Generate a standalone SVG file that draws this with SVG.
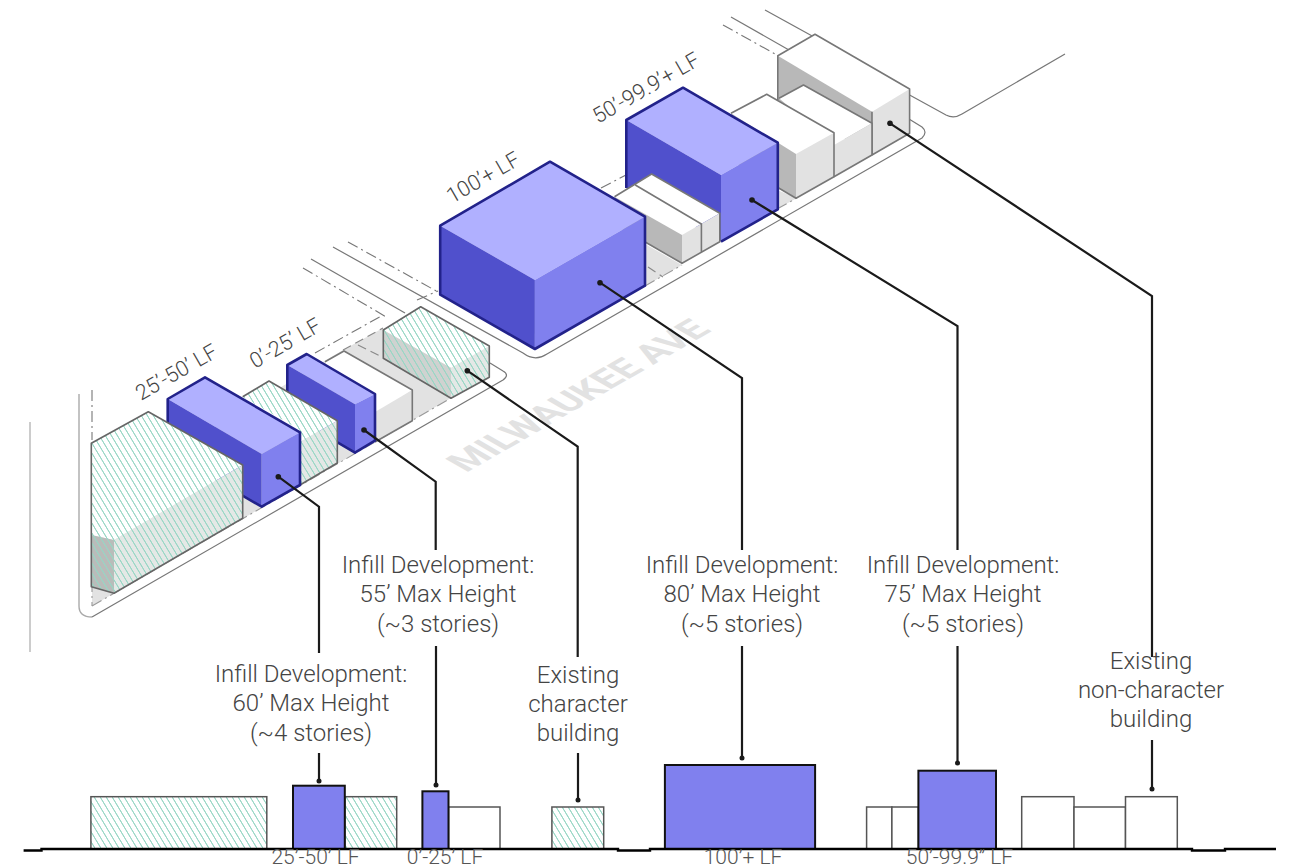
<svg xmlns="http://www.w3.org/2000/svg" width="1291" height="866" viewBox="0 0 1291 866">
<style>
text{font-family:Roboto,"Liberation Sans",sans-serif;font-weight:300;fill:#444}
.lab{font-size:24px;text-anchor:middle}
.iso{font-size:21.5px}
.el{font-size:21px;text-anchor:middle;fill:#555}
.out{fill:none;stroke:#777;stroke-width:1.2}
.dd{fill:none;stroke:#777;stroke-width:1.1;stroke-dasharray:11 4 2 4}
.dash{fill:none;stroke:#888;stroke-width:1.1;stroke-dasharray:9 5}
.g{fill:#e2e2e2}
.bt{fill:#b0b0ff}.bl{fill:#5050cc}.br{fill:#8080ee}
.be{fill:none;stroke:#22228a;stroke-width:2.6;stroke-linejoin:round}
.wt{fill:#fff}.wl{fill:#b8b8b8}.wr{fill:#e2e2e2}
.we{fill:none;stroke:#777;stroke-width:1.6;stroke-linejoin:round}
.ht{fill:#fff}.hr{fill:#e4e8e6}.hl{fill:#cfd2d0}.hd{fill:#b9bcba}
.h{fill:url(#hatch)}
.ee{fill:none;stroke:#666;stroke-width:1.6;stroke-linejoin:round}
.bar{fill:#8080ee;stroke:#111;stroke-width:2}
.wbar{fill:#fff;stroke:#555;stroke-width:1.5}
.hbar{fill:url(#hatch);stroke:#555;stroke-width:1.5}
.lead{fill:none;stroke:#1a1a1a;stroke-width:2.2}
.dot{fill:#1a1a1a}
</style>
<defs>
<pattern id="hatch" patternUnits="userSpaceOnUse" width="6" height="10">
<path d="M-6 0L6 20M0 0L6 10M-6 -10L6 10M0 -10L12 10M6 0L12 10" fill="none" stroke="#97d6c4" stroke-width="1"/>
</pattern>
</defs>
<rect width="1291" height="866" fill="#fff"/>

<g id="site">
<path d="M30 422V652" fill="none" stroke="#aaa" stroke-width="1.2"/>
<path d="M79 394V606Q79 617 92 617" fill="none" stroke="#aaa" stroke-width="1.4"/>
<path class="out" d="M92 617L503 380Q510 375 503 371L490 363"/>
<path class="out" d="M333 247L523 353Q535 362 547 354L922 138Q928 132 922 127L909 119"/>
<path class="out" d="M909.6 95L946 115Q954 119 962 114L1065 54"/>
<path class="out" d="M311 259L405 313"/>
<path class="out" d="M765 10L814 37"/>
<path class="out" d="M731 17L789 50"/>
<path class="dd" d="M348 242L438 292"/>
<path class="dd" d="M303 268L388 318"/>
<path class="dd" d="M723 25L777 55"/>
<path class="dd" d="M315 353L383 315"/>
<path class="dd" d="M92 390V440"/>
<path class="dd" d="M601 188L626 175"/>
<path class="dd" d="M417 300L438 291"/>
<path class="g" d="M92 606L451 398L383 358V328L343 350L92 500Z"/>
<path class="g" d="M645 244L682 265L645 286Z"/>
<path class="g" d="M777 190L797 198L777 209Z"/>
<path class="dd" style="stroke:#999" d="M92 606L451 398"/>
<path class="dd" style="stroke:#999" d="M92 560V606"/>
<path class="dd" style="stroke:#999" d="M645 286L682 265"/>
<path class="dd" style="stroke:#999" d="M777 209L797 198"/>
<path class="dash" d="M358 345L382 357"/>
<path class="dash" d="M648 267L663 277"/>
<path class="dash" d="M343 350L383 328"/>
<text transform="matrix(.866 -.5 .866 .5 466 473)" style="font-size:37px;font-weight:700;fill:#e2e2e2">MILWAUKEE AVE</text>
</g>

<g id="b-existing-char">
<path class="ht" d="M383.3 330L420.7 306.7L489.3 346L451 367.7Z"/>
<path class="hl" d="M383.3 330L451 367.7V398.3L383.3 358.3Z"/>
<path class="hr" d="M451 367.7L489.3 346V377.3L451 398.3Z"/>
<path class="h" d="M383.3 330L420.7 306.7L489.3 346V377.3L451 398.3L383.3 358.3Z"/>
<path class="ee" d="M383.3 330L420.7 306.7L489.3 346V377.3L451 398.3L383.3 358.3Z"/>
</g>
<g id="b-white-left">
<path class="wt" d="M325 361.7L344 351L412.3 390L375 415L340 390Z"/>
<path class="wr" d="M375 412L412.3 390V420.7L375 442Z"/>
<path class="we" d="M325 361.7L344 351L412.3 390V420.7L375 442"/>
</g>
<g id="b-infill-55">
<path class="bt" d="M287.3 365L306.7 354L375 394L355 404.3Z"/>
<path class="bl" d="M287.3 365L355 404.3V452.7L287.3 413Z"/>
<path class="br" d="M355 404.3L375 394V440.7L355 452.7Z"/>
<path class="be" d="M287.3 413V365L306.7 354L375 394V440.7L355 452.7L287.3 413"/>
</g>
<g id="b-hatch-mid">
<path class="ht" d="M242.7 396.7L269 381L337.3 420.7L300 442L243 408Z"/>
<path class="hr" d="M300 442L337.3 420.7V463L300 485Z"/>
<path class="h" d="M242.7 396.7L269 381L337.3 420.7V463L300 485V430Z"/>
<path class="ee" d="M242.7 396.7L269 381L337.3 420.7V463L300 485"/>
</g>
<g id="b-infill-60">
<path class="bt" d="M167.7 399L205 377.3L300 432.3L261.7 454Z"/>
<path class="bl" d="M167.7 399L261.7 454V506.7L167.7 452Z"/>
<path class="br" d="M261.7 454L300 432.3V485L261.7 506.7Z"/>
<path class="be" d="M167.7 452V399L205 377.3L300 432.3V485L261.7 506.7L167.7 452"/>
</g>
<g id="b-existing-large">
<path class="ht" d="M91.3 443.3L148.3 411.7L242.7 465L114 540L91.3 535Z"/>
<path class="hr" d="M114 540L242.7 465V518.3L114 593.3Z"/>
<path class="hd" d="M91.3 535L114 540V593.3L91.3 586.7Z"/>
<path class="h" d="M91.3 443.3L148.3 411.7L242.7 465V518.3L114 593.3L91.3 586.7Z"/>
<path class="ee" d="M91.3 443.3L148.3 411.7L242.7 465V518.3L114 593.3L91.3 586.7Z"/>
</g>

<g id="b-tall">
<path class="wt" d="M777.8 55.7L815 34.3L909.6 89L872 111.7Z"/>
<path class="wl" d="M777.8 55.7L872 111.7V155L777.8 100Z"/>
<path class="wr" d="M872 111.7L909.6 89V133.3L872 155Z"/>
<path class="we" d="M872 155V111.7M872 155L909.6 133.3V89L815 34.3L777.8 55.7V100"/>
</g>
<g id="b-white-b">
<path class="wt" d="M779 98.3L803.5 85L872 123.3L834 145Z"/>
<path class="wr" d="M834 145L872 123.3V155L834 176.7Z"/>
<path class="we" d="M779 98.3L803.5 85L872 123.3V155L834 176.7"/>
</g>
<g id="b-white-a">
<path class="wt" d="M731 113.3L766.7 94.3L834 132.7L796 154Z"/>
<path class="wl" d="M731 113.3L796 154V198.3L731 160Z"/>
<path class="wr" d="M796 154L834 132.7V176.7L796 198.3Z"/>
<path class="we" d="M731 113.3L766.7 94.3L834 132.7V176.7L796 198.3L777 187"/>
</g>
<g id="b-infill-75">
<path class="bt" d="M626.3 120L683 87.7L777.8 142.7L721 175Z"/>
<path class="bl" d="M626.3 120L721 175V241.7L626.3 188Z"/>
<path class="br" d="M721 175L777.8 142.7V209.3L721 241.7Z"/>
<path class="be" d="M626.3 188V120L683 87.7L777.8 142.7V209.3L721 241.7"/>
</g>
<g id="b-white-pair">
<path class="wt" d="M614.5 196.7L651.6 174L719.8 213.3L682 235Z"/>
<path class="wl" d="M614.5 196.7L682 235V263.3L614.5 225Z"/>
<path class="wr" d="M682 235L719.8 213.3V241.7L682 263.3Z"/>
<path class="we" d="M614.5 196.7L651.6 174L719.8 213.3V241.7L682 263.3L640 239M635.3 185L701.4 224V251.7"/>
</g>
<g id="b-infill-80">
<path class="bt" d="M440.2 225.7L550 161.7L645 216.7L534.9 280Z"/>
<path class="bl" d="M440.2 225.7L534.9 280V349L440.2 294.7Z"/>
<path class="br" d="M534.9 280L645 216.7V285.7L534.9 349Z"/>
<path class="be" d="M440.2 294.7V225.7L550 161.7L645 216.7V285.7L534.9 349Z"/>
</g>

<g id="iso-labels">
<text class="iso" transform="translate(141 401) rotate(-30)">25’-50’ LF</text>
<text class="iso" transform="translate(255 369) rotate(-30)">0’-25’ LF</text>
<text class="iso" transform="translate(452 204) rotate(-30)">100’+ LF</text>
<text class="iso" transform="translate(598 124) rotate(-30)">50’-99.9’+ LF</text>
</g>

<g id="elevation">
<rect class="hbar" x="90.9" y="796.7" width="175.9" height="52.3"/>
<rect class="hbar" x="344.8" y="796.7" width="51.9" height="52.3"/>
<rect class="bar" x="293" y="785.7" width="51.8" height="63.3"/>
<rect class="wbar" x="448.5" y="807" width="51.5" height="42"/>
<rect class="bar" x="422.4" y="791.3" width="26.1" height="57.7"/>
<rect class="hbar" x="551.9" y="807" width="51.8" height="42"/>
<rect class="bar" x="664.9" y="765" width="150.2" height="84"/>
<rect class="wbar" x="866.6" y="807" width="25.3" height="42"/>
<rect class="wbar" x="891.9" y="807" width="26.5" height="42"/>
<rect class="bar" x="918.4" y="770.7" width="77.6" height="78.3"/>
<rect class="wbar" x="1021.7" y="796.7" width="52.3" height="52.3"/>
<rect class="wbar" x="1074" y="807" width="51.5" height="42"/>
<rect class="wbar" x="1125.5" y="796.7" width="51.8" height="52.3"/>
<path d="M23.6 850.5H41.5V849H618V850.5H650V849H1192V850.5H1225V849H1276" fill="none" stroke="#000" stroke-width="2.4"/>
<text class="el" x="315.5" y="864">25’-50’ LF</text>
<text class="el" x="445" y="864">0’-25’ LF</text>
<text class="el" x="743" y="864">100’+ LF</text>
<text class="el" x="959.5" y="864">50’-99.9” LF</text>
</g>

<g id="connectors">
<path class="lead" d="M278.3 476.7L319 506.7V653"/>
<path class="lead" d="M319 753V781"/>
<circle class="dot" cx="278.3" cy="476.7" r="2.8"/><circle class="dot" cx="319" cy="781" r="2.5"/>
<path class="lead" d="M364 430L435.7 481.7V550"/>
<path class="lead" d="M436 646V785"/>
<circle class="dot" cx="364" cy="430" r="2.8"/><circle class="dot" cx="436" cy="785" r="2.5"/>
<path class="lead" d="M467.3 370.7L577.7 446.7V657"/>
<path class="lead" d="M578 753V800"/>
<circle class="dot" cx="467.3" cy="370.7" r="2.8"/><circle class="dot" cx="578" cy="800" r="2.5"/>
<path class="lead" d="M600 282.7L742 378V550"/>
<path class="lead" d="M742 646V758"/>
<circle class="dot" cx="600" cy="282.7" r="2.8"/><circle class="dot" cx="742" cy="758" r="2.5"/>
<path class="lead" d="M752 200L957.5 326V550"/>
<path class="lead" d="M957.5 646V763"/>
<circle class="dot" cx="752" cy="200" r="2.8"/><circle class="dot" cx="957.5" cy="763" r="2.5"/>
<path class="lead" d="M890 123.3L1152 296V657"/>
<path class="lead" d="M1152 740V789"/>
<circle class="dot" cx="890" cy="123.3" r="2.8"/><circle class="dot" cx="1152" cy="789" r="2.5"/>
</g>

<g id="labels">
<text class="lab" x="311" y="682">Infill Development:</text><text class="lab" x="311" y="711">60’ Max Height</text><text class="lab" x="311" y="741">(~4 stories)</text>
<text class="lab" x="438" y="573">Infill Development:</text><text class="lab" x="438" y="602">55’ Max Height</text><text class="lab" x="438" y="632">(~3 stories)</text>
<text class="lab" x="578" y="683">Existing</text><text class="lab" x="578" y="712">character</text><text class="lab" x="578" y="741">building</text>
<text class="lab" x="742" y="573">Infill Development:</text><text class="lab" x="742" y="602">80’ Max Height</text><text class="lab" x="742" y="632">(~5 stories)</text>
<text class="lab" x="963" y="573">Infill Development:</text><text class="lab" x="963" y="602">75’ Max Height</text><text class="lab" x="963" y="632">(~5 stories)</text>
<text class="lab" x="1151" y="669">Existing</text><text class="lab" x="1151" y="698">non-character</text><text class="lab" x="1151" y="727">building</text>
</g>
</svg>
